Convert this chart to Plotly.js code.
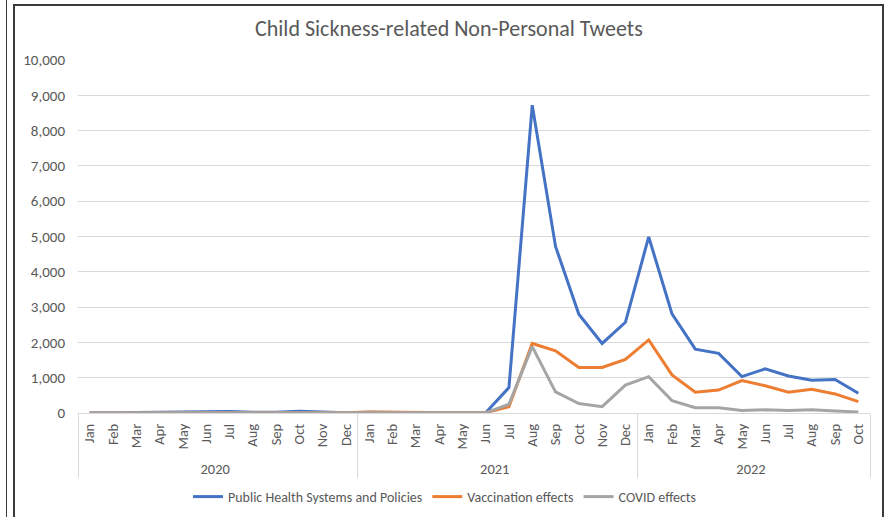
<!DOCTYPE html>
<html>
<head>
<meta charset="utf-8">
<script src="https://cdn.plot.ly/plotly-3.0.1.min.js"></script>
<style>
  html, body { margin: 0; padding: 0; background: #fff; }
  #wrap { position: relative; width: 889px; height: 517px; overflow: hidden; }
  #chart { position: absolute; left: 0; top: 0; width: 889px; height: 517px; }
  .bl { position: absolute; background: #3a3a3a; }
</style>
</head>
<body>
<div id="wrap">
  <div id="chart"></div>
  <div class="bl" style="left:6px;top:0;width:1px;height:517px;"></div>
  <div class="bl" style="left:13px;top:4px;width:2px;height:513px;"></div>
  <div class="bl" style="left:13px;top:4px;width:871px;height:2px;"></div>
  <div class="bl" style="left:882px;top:4px;width:2px;height:513px;"></div>
</div>
<script>
const years = ["2020","2020","2020","2020","2020","2020","2020","2020","2020","2020","2020","2020",
               "2021","2021","2021","2021","2021","2021","2021","2021","2021","2021","2021","2021",
               "2022","2022","2022","2022","2022","2022","2022","2022","2022","2022"];
const months = ["Jan","Feb","Mar","Apr","May","Jun","Jul","Aug","Sep","Oct","Nov","Dec",
                "Jan","Feb","Mar","Apr","May","Jun","Jul","Aug","Sep","Oct","Nov","Dec",
                "Jan","Feb","Mar","Apr","May","Jun","Jul","Aug","Sep","Oct"];

const publicHealth = [0,10,20,30,20,50,40,20,20,50,20,10,
                      20,10,10,10,10,10,720,8720,4720,2800,1970,2570,
                      4990,2810,1810,1690,1030,1250,1050,930,950,560];
const vaccination  = [0,0,10,20,10,10,10,10,10,10,10,10,
                      30,20,10,10,10,10,180,1970,1760,1290,1290,1520,
                      2070,1080,590,650,920,770,590,670,540,320];
const covid        = [5,5,5,5,5,5,5,5,5,5,5,5,
                      10,10,10,10,10,5,250,1880,600,270,180,790,
                      1030,350,150,150,70,90,70,90,60,30];

const seriesNames = ["Public Health Systems and Policies","Vaccination effects","COVID effects"];
const seriesColors = ["#4472C4","#ED7D31","#A5A5A5"];
const seriesData = [publicHealth, vaccination, covid];

const FONT = "Calibri, Carlito, Lato, sans-serif";
const TXT = "#595959";

const traces = seriesData.map((d, i) => ({
  type: "scatter",
  mode: "lines",
  x: [years, months],
  y: d,
  name: seriesNames[i],
  legendgroup: "g" + i,
  line: { color: seriesColors[i], width: 3 },
  hoverinfo: "x+y+name"
}));

const layout = {
  width: 889, height: 517,
  margin: { l: 78, r: 19, t: 60, b: 104 },
  paper_bgcolor: "rgba(0,0,0,0)",
  plot_bgcolor: "#fff",
  font: { family: FONT, color: TXT, size: 14 },
  title: { text: "Child Sickness-related Non-Personal Tweets", font: { family: FONT, size: 22, color: TXT }, x: 0.505, xanchor: "center", y: 0.945, yanchor: "middle" },
  xaxis: {
    type: "multicategory",
    range: [-0.5, months.length - 0.5],
    showgrid: false,
    showline: true,
    linecolor: "#d9d9d9",
    linewidth: 1,
    ticks: "",
    tickangle: -90,
    ticklabelstandoff: 4,
    tickfont: { family: FONT, size: 14.5, color: TXT },
    showdividers: true,
    dividercolor: "#d9d9d9",
    dividerwidth: 1,
    automargin: false,
    zeroline: false
  },
  yaxis: {
    range: [0, 10000],
    dtick: 1000,
    tickformat: ",d",
    showgrid: true,
    gridcolor: "#d9d9d9",
    gridwidth: 1,
    zeroline: false,
    showline: false,
    ticks: "",
    ticklabelstandoff: 12,
    tickfont: { family: FONT, size: 15, color: TXT },
    automargin: false
  },
  showlegend: true,
  legend: {
    orientation: "h",
    xref: "container", yref: "container",
    x: 0.5, xanchor: "center",
    y: 20 / 517, yanchor: "middle",
    tracegroupgap: 10,
    font: { family: FONT, size: 14, color: TXT },
    bgcolor: "rgba(0,0,0,0)"
  }
};

Plotly.newPlot("chart", traces, layout, { displayModeBar: false, staticPlot: true });
</script>
</body>
</html>
